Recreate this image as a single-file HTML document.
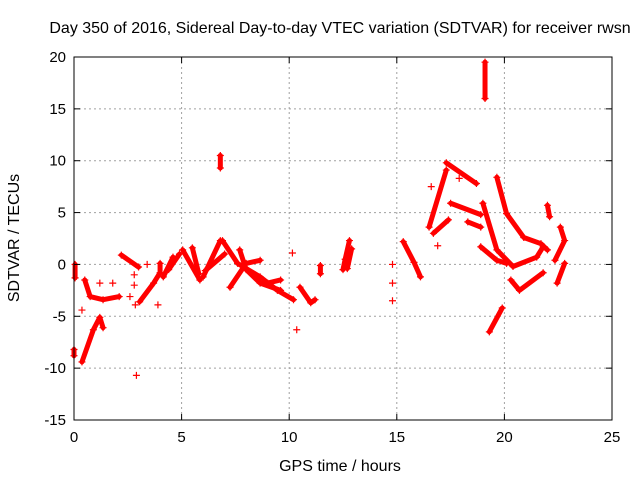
<!DOCTYPE html>
<html><head><meta charset="utf-8"><style>
body{margin:0;background:#fff;}
svg text{font-family:"Liberation Sans",sans-serif;font-size:15px;fill:#000;}
svg text.big{font-size:16px;}
</style></head><body>
<svg id="chart" width="640" height="480" xmlns="http://www.w3.org/2000/svg">
<text class="big" x="340" y="33" text-anchor="middle">Day 350 of 2016, Sidereal Day-to-day VTEC variation (SDTVAR) for receiver rwsn</text>
<text class="big" x="340" y="471" text-anchor="middle">GPS time / hours</text>
<text class="big" transform="translate(19,238) rotate(-90)" text-anchor="middle">SDTVAR / TECUs</text>
<g id="grid"></g>
<g id="marks"></g>
<rect x="74" y="57" width="538" height="363" fill="none" stroke="#000" stroke-width="1"/>
<g id="ticks"></g>
</svg>
<script>
const xTicks=[0,5,10,15,20,25];
const yTicks=[-15,-10,-5,0,5,10,15,20];
// tracks: sequences of [hour, SDTVAR]
const tracks=[
[[0.05,0],[0.05,-1.3]],
[[0.5,-1.5],[0.75,-3.1],[1.35,-3.4],[2.1,-3.1]],
[[0.37,-9.4],[0.9,-6.3],[1.2,-5.1],[1.35,-6.1]],
[[2.2,0.9],[3,-0.25]],
[[3.05,-3.6],[3.7,-1.8],[4,-0.8],[4,0.1]],
[[4.15,-1.2],[4.6,0.7]],
[[4.4,-0.5],[4.9,1.0]],
[[5.05,1.4],[5.85,-1.5]],
[[5.5,1.6],[5.8,-0.9]],
[[6,-1.2],[6.8,2.3]],
[[6.1,-0.6],[7,1]],
[[6.9,2.3],[7.6,0.1],[8.65,-1.2],[9.45,-2.5],[10.2,-3.4]],
[[7.25,-2.2],[8,0.1],[8.65,0.4]],
[[7.7,1.4],[8,-0.5],[8.65,-1.8],[9.6,-2.5]],
[[9,-1.8],[9.6,-1.5]],
[[10.5,-2.2],[11,-3.7],[11.2,-3.4]],
[[11.45,-0.1],[11.45,-0.9]],
[[12.5,-0.5],[12.6,0.5],[12.8,2.3]],
[[12.7,-0.4],[12.9,1.5]],
[[6.8,10.5],[6.8,9.3]],
[[0,-8.2],[0,-8.8]],
[[15.3,2.2],[15.8,0.2],[16.1,-1.2]],
[[16.5,3.6],[17.3,9.1]],
[[16.7,3],[17.4,4.3]],
[[17.3,9.8],[18.7,7.8]],
[[17.5,5.9],[18.9,4.8]],
[[18.3,4.1],[18.9,3.6]],
[[19,5.9],[19.65,1.4],[20.4,-0.2],[21.5,0.7],[21.8,1.7]],
[[19.65,8.4],[20.1,4.9],[20.9,2.6],[21.7,2],[22,1.4]],
[[18.9,1.7],[19.65,0.4],[20.1,0.1]],
[[20.3,-1.5],[20.7,-2.5],[21.8,-0.8]],
[[19.3,-6.5],[19.9,-4.2]],
[[22.6,3.6],[22.8,2.3],[22.35,0.4]],
[[22.8,0.1],[22.45,-1.8]],
[[22,5.7],[22.1,4.6]],
[[19.1,19.5],[19.1,16]]
];
const points=[[0.37,-4.4],[1.2,-1.8],[1.8,-1.8],[2.8,-1],[2.8,-2],[2.6,-3.1],[2.85,-3.9],[2.9,-10.7],[3.4,0],[3.9,-3.9],[10.15,1.1],[10.35,-6.3],[14.8,0],[14.8,-1.8],[14.8,-3.5],[16.6,7.5],[16.9,1.8],[17.9,8.3]];
const X=h=>74+h*538/25, Y=v=>420-(v+15)*363/35;
const NS='http://www.w3.org/2000/svg';
const grid=document.getElementById('grid'),ticks=document.getElementById('ticks'),marks=document.getElementById('marks');
function mk(tag,attrs,parent){const e=document.createElementNS(NS,tag);for(const k in attrs)e.setAttribute(k,attrs[k]);parent.appendChild(e);return e;}
xTicks.forEach(t=>{const x=X(t);
 if(t>0&&t<25){const g=mk('line',{x1:x,x2:x,y1:57,y2:420,stroke:'#a0a0a0','stroke-dasharray':'2,3'},grid);}
 mk('line',{x1:x,x2:x,y1:420,y2:414,stroke:'#000'},ticks);mk('line',{x1:x,x2:x,y1:57,y2:63,stroke:'#000'},ticks);
 const l=mk('text',{x:x,y:442,'text-anchor':'middle'},ticks);l.textContent=t;
 });
yTicks.forEach(t=>{const y=Y(t);
 if(t>-15&&t<20){const g=mk('line',{x1:74,x2:612,y1:y,y2:y,stroke:'#a0a0a0','stroke-dasharray':'2,3'},grid);}
 mk('line',{x1:74,x2:80,y1:y,y2:y,stroke:'#000'},ticks);mk('line',{x1:606,x2:612,y1:y,y2:y,stroke:'#000'},ticks);
 const l=mk('text',{x:66,y:y+5,'text-anchor':'end'},ticks);l.textContent=t;
 });
function plus(h,v){const x=X(h),y=Y(v);
 const p=mk('path',{d:`M${x-3.5} ${y}H${x+3.5}M${x} ${y-3.5}V${y+3.5}`,stroke:'#f00','stroke-width':1.2},marks);
 }
tracks.forEach(tr=>{
 const pl=mk('polyline',{points:tr.map(p=>X(p[0])+','+Y(p[1])).join(' '),fill:'none',stroke:'#f00','stroke-width':5,'stroke-linecap':'round','stroke-linejoin':'round'},marks);
 
 tr.forEach(p=>plus(p[0],p[1]));});
points.forEach(p=>plus(p[0],p[1]));
</script>
</body></html>
